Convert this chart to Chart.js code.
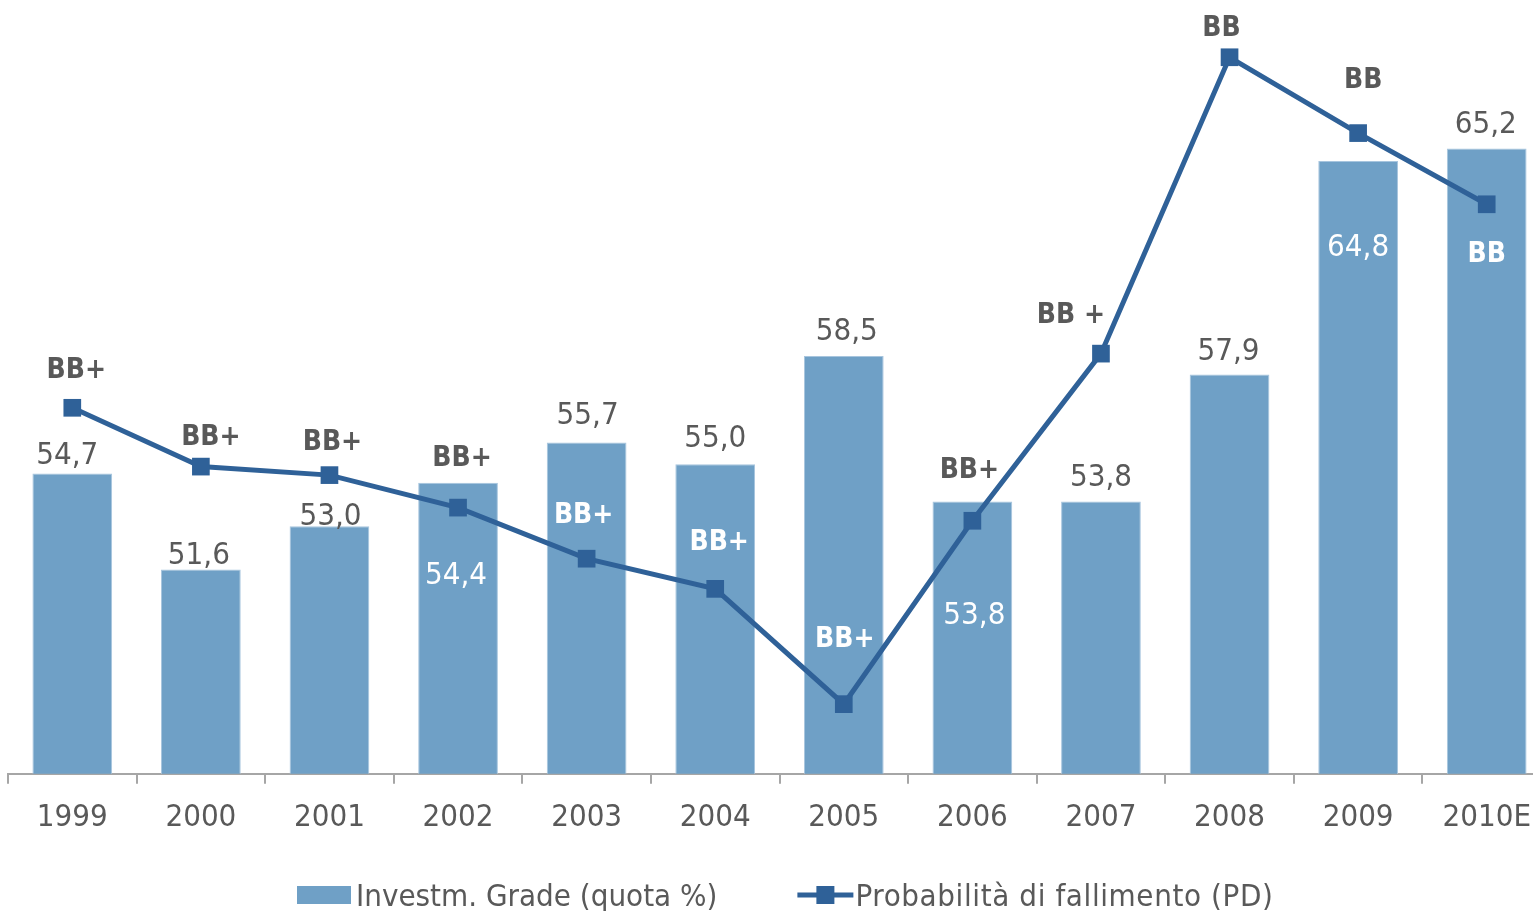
<!DOCTYPE html>
<html>
<head>
<meta charset="utf-8">
<script src="https://cdn.jsdelivr.net/npm/chart.js@4"></script>
<style>
    html, body { margin: 0; padding: 0; background: #fff; overflow: hidden; }
    #wrap { width: 1560px; height: 911px; }
</style>
</head>
<body>
<div id="wrap"><canvas id="gradeChart"></canvas></div>
<script>
const years = ['1999', '2000', '2001', '2002', '2003', '2004', '2005', '2006', '2007', '2008', '2009', '2010E'];
const investGrade = [54.7, 51.6, 53.0, 54.4, 55.7, 55.0, 58.5, 53.8, 53.8, 57.9, 64.8, 65.2];
const pdValues = [4.73, 3.97, 3.86, 3.44, 2.78, 2.39, 0.90, 3.27, 5.43, 9.26, 8.28, 7.36];
const ratings = ['BB+', 'BB+', 'BB+', 'BB+', 'BB+', 'BB+', 'BB+', 'BB+', 'BB +', 'BB', 'BB', 'BB'];

// label placement (baseline offset from the mark, in px) and which ones sit inside a bar
const valueDx = [-5, -2, 1, -2, 1, 0, 3, 2, 0, -1, 0, -1];
const valueDy = [-10, -6, -1, 101, -19, -17, -16, 123, -15, -15, 95, -16];
const valueInside = [false, false, false, true, false, false, false, true, false, false, true, false];
const ratingDx = [4, 10, 3, 4, -3, 4, 1, -3, -30, -8, 5, 0];
const ratingDy = [-30, -22, -25, -42, -36, -39, -57, -43, -31, -21, -45, 58];
const ratingInside = [false, false, false, false, true, true, true, false, false, false, false, true];

const colors = { bar: '#6fa0c6', barEdge: '#a7c5de', line: '#2f6198', text: '#595959', axis: '#a6a6a6' };
const fontFamily = "'DejaVu Sans Condensed', 'DejaVu Sans', sans-serif";

const labelPlugin = {
    id: 'labels',
    afterDatasetsDraw(chart) {
        const ctx = chart.ctx;
        const bars = chart.getDatasetMeta(0).data;
        const points = chart.getDatasetMeta(1).data;
        ctx.save();
        ctx.textAlign = 'center';
        ctx.textBaseline = 'alphabetic';

        ctx.font = '31px ' + fontFamily;
        bars.forEach((bar, i) => {
            ctx.fillStyle = valueInside[i] ? '#ffffff' : colors.text;
            const txt = investGrade[i].toFixed(1).replace('.', ',');
            ctx.fillText(txt, bar.x + valueDx[i], bar.y + valueDy[i]);
        });

        ctx.font = 'bold 28px ' + fontFamily;
        points.forEach((pt, i) => {
            ctx.fillStyle = ratingInside[i] ? '#ffffff' : colors.text;
            ctx.fillText(ratings[i], pt.x + ratingDx[i], pt.y + ratingDy[i]);
        });
        ctx.restore();
    }
};

const legendPlugin = {
    id: 'bottomLegend',
    afterDraw(chart) {
        const ctx = chart.ctx;
        const ds = chart.data.datasets;
        const y = 895;
        let x = 297;
        ctx.save();
        ctx.font = '31px ' + fontFamily;
        ctx.textBaseline = 'alphabetic';

        ctx.fillStyle = ds[0].backgroundColor;
        ctx.fillRect(x, y - 9, 54, 18);
        x += 59;
        ctx.fillStyle = colors.text;
        ctx.fillText(ds[0].label, x, y + 11);
        x += ctx.measureText(ds[0].label).width + 80;

        ctx.strokeStyle = ds[1].borderColor;
        ctx.lineWidth = 5;
        ctx.beginPath();
        ctx.moveTo(x, y);
        ctx.lineTo(x + 56, y);
        ctx.stroke();
        ctx.fillStyle = ds[1].borderColor;
        ctx.fillRect(x + 28 - 9, y - 9, 18, 18);
        x += 58;
        ctx.fillStyle = colors.text;
        ctx.letterSpacing = '0.6px';
        ctx.fillText(ds[1].label, x, y + 11);
        ctx.restore();
    }
};

new Chart(document.getElementById('gradeChart'), {
    type: 'bar',
    data: {
        labels: years,
        datasets: [
            {
                type: 'bar',
                label: 'Investm. Grade (quota %)',
                data: investGrade,
                backgroundColor: colors.bar,
                borderColor: colors.barEdge,
                borderWidth: 1,
                borderSkipped: 'bottom',
                categoryPercentage: 1,
                barPercentage: 0.62,
                yAxisID: 'y',
                order: 2
            },
            {
                type: 'line',
                label: 'Probabilità di fallimento (PD)',
                data: pdValues,
                borderColor: colors.line,
                backgroundColor: colors.line,
                borderWidth: 5,
                pointStyle: 'rect',
                pointRadius: 12.5,
                pointBorderWidth: 0,
                pointBackgroundColor: colors.line,
                tension: 0,
                clip: false,
                yAxisID: 'y2',
                order: 1
            }
        ]
    },
    options: {
        responsive: true,
        maintainAspectRatio: false,
        animation: false,
        layout: { autoPadding: false, padding: { left: 8, right: 9, top: 0, bottom: 58 } },
        plugins: { legend: { display: false }, tooltip: { enabled: false } },
        scales: {
            x: {
                offset: true,
                grid: { display: true, drawOnChartArea: false, drawTicks: true, tickLength: 10, color: colors.axis, lineWidth: 2, offset: true },
                border: { display: true, color: colors.axis, width: 2 },
                ticks: { color: colors.text, font: { family: fontFamily, size: 31 }, padding: 16, maxRotation: 0, autoSkip: false }
            },
            y: { display: false, min: 45, max: 70 },
            y2: { display: false, min: 0, max: 10 }
        }
    },
    plugins: [labelPlugin, legendPlugin]
});
</script>
</body>
</html>
